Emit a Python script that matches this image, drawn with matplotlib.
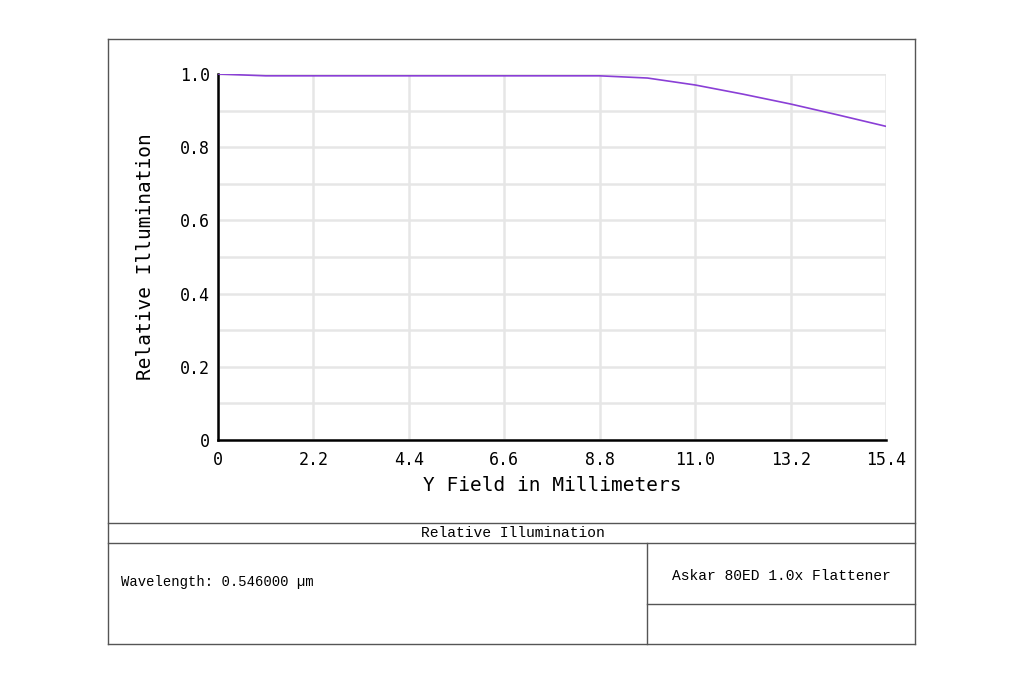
import numpy as np
import matplotlib
matplotlib.use("Agg")
from matplotlib import pyplot as plt
from matplotlib.lines import Line2D

# data
field_mm = [0.0, 1.1, 2.2, 3.3, 4.4, 5.5, 6.6, 7.7, 8.8, 9.9, 11.0, 12.1, 13.2, 14.3, 15.4]
rel_illum = [1.0, 0.995, 0.995, 0.995, 0.995, 0.995, 0.995, 0.995, 0.995, 0.989, 0.970, 0.945, 0.918, 0.888, 0.857]
x_ticks = [0, 2.2, 4.4, 6.6, 8.8, 11.0, 13.2, 15.4]
x_tick_labels = ["0", "2.2", "4.4", "6.6", "8.8", "11.0", "13.2", "15.4"]
y_ticks = [0, 0.2, 0.4, 0.6, 0.8, 1.0]
y_tick_labels = ["0", "0.2", "0.4", "0.6", "0.8", "1.0"]

W, H = 1024, 683
mono = "DejaVu Sans Mono"

def px(x0, y0, w, h):
    # pixel box (top-left origin) -> figure fraction
    return [x0 / W, 1 - (y0 + h) / H, w / W, h / H]

fig = plt.figure(figsize=(W / 100, H / 100), dpi=100, facecolor="w")
ax = fig.add_axes(px(218, 74, 668, 366))

ax.plot(field_mm, rel_illum, color="#8a3fd6", lw=1.2, zorder=3)
ax.set_xlim(0, 15.4)
ax.set_ylim(0, 1.0)

# grid every 2.2 mm and every 0.1
ax.set_yticks(np.arange(0, 1.001, 0.1), minor=True)
ax.grid(True, which="both", color="#e6e6e6", lw=1.8)
ax.set_xticks(x_ticks)
ax.set_xticklabels(x_tick_labels, family=mono, fontsize=12)
ax.set_yticks(y_ticks)
ax.set_yticklabels(y_tick_labels, family=mono, fontsize=12)
ax.tick_params(axis="x", which="both", length=0, pad=8)
ax.tick_params(axis="y", which="both", length=0, pad=6)
ax.set_axisbelow(True)

for s in ["top", "right"]:
    ax.spines[s].set_visible(False)
ax.spines["left"].set_color("black")
ax.spines["bottom"].set_color("black")
ax.spines["left"].set_linewidth(1.8)
ax.spines["bottom"].set_linewidth(1.8)

ax.set_xlabel("Y Field in Millimeters", family=mono, fontsize=14, labelpad=5)
ax.set_ylabel("Relative Illumination", family=mono, fontsize=14, labelpad=18)

# outer frame and title block
def fline(x1, y1, x2, y2, c="#555555", lw=1.0):
    fig.add_artist(Line2D([x1 / W, x2 / W], [1 - y1 / H, 1 - y2 / H], color=c, lw=lw))

fline(108, 39, 915, 39)
fline(108, 644, 915, 644)
fline(108, 39, 108, 644)
fline(915, 39, 915, 644)
fline(108, 523, 915, 523)
fline(108, 543, 915, 543)
fline(647, 543, 647, 644)
fline(647, 604, 915, 604)

fig.text(513 / W, 1 - 533 / H, "Relative Illumination", family="Liberation Mono",
         fontsize=10.5, ha="center", va="center")
fig.text(121 / W, 1 - 582 / H, "Wavelength: 0.546000 µm", family="Liberation Mono",
         fontsize=10, ha="left", va="center")
fig.text(781 / W, 1 - 576 / H, "Askar 80ED 1.0x Flattener", family="Liberation Mono",
         fontsize=10.5, ha="center", va="center")

plt.savefig("out.png", dpi=100, facecolor="w")
